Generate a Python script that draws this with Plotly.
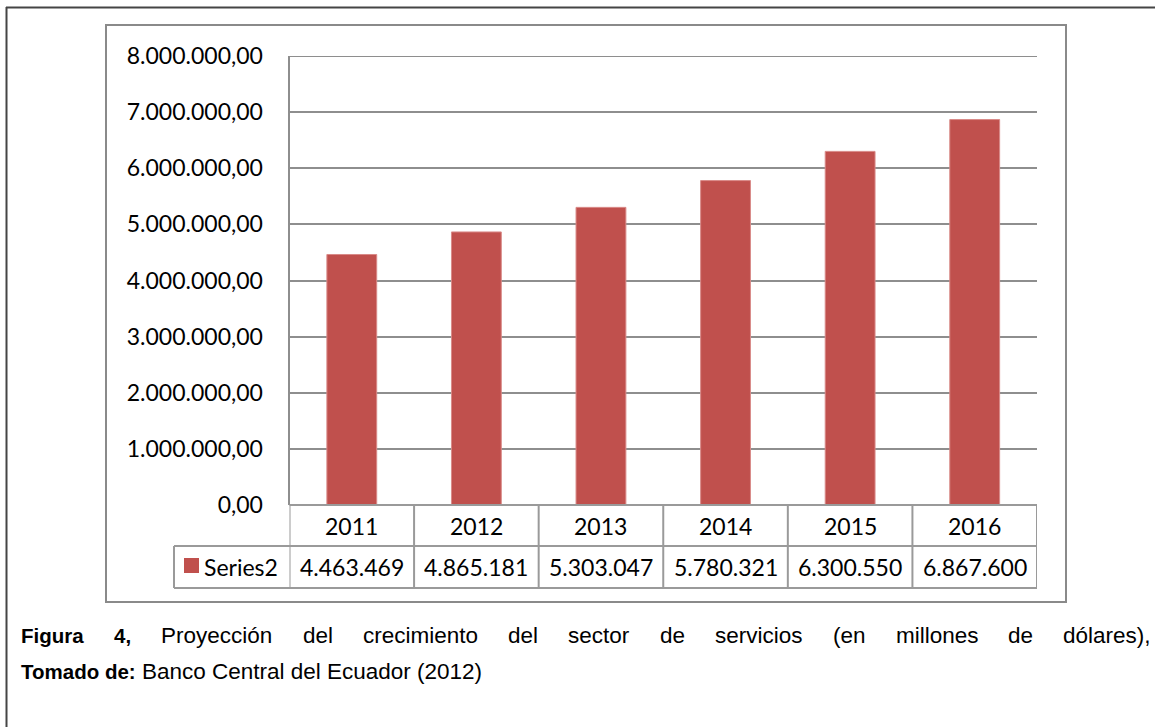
import plotly.graph_objects as go

# Service-sector projection, 2011-2016
years = ["2011", "2012", "2013", "2014", "2015", "2016"]
services = [4463469, 4865181, 5303047, 5780321, 6300550, 6867600]
series_name = "Series2"

y_ticks = [0, 1000000, 2000000, 3000000, 4000000, 5000000, 6000000, 7000000, 8000000]
y_tick_labels = ["0,00", "1.000.000,00", "2.000.000,00", "3.000.000,00", "4.000.000,00",
                 "5.000.000,00", "6.000.000,00", "7.000.000,00", "8.000.000,00"]

caption_words = [("Figura", True), ("4,", True), ("Proyección", False), ("del", False),
                 ("crecimiento", False), ("del", False), ("sector", False), ("de", False),
                 ("servicios", False), ("(en", False), ("millones", False), ("de", False),
                 ("dólares),", False)]
caption_source_label = "Tomado de:"
caption_source = "Banco Central del Ecuador (2012)"

W, H = 1155, 727
BAR_COLOR = "#C0504D"
GRID = "#8E8E8E"
TABLE_LINE = "#9A9A9A"
CHART_FONT = "Lato"
CAPTION_FONT = "Liberation Sans, Arial, sans-serif"


def px(x):
    return x / W


def py(y):
    return 1 - y / H


# plot-area geometry in pixels
PLOT_L, PLOT_R = 289.5, 1037
PLOT_T, PLOT_B = 56, 505
ROW1_B, ROW2_B = 546, 588
LEGEND_L = 174

value_labels = [f"{v:,}".replace(",", ".") for v in services]

fig = go.Figure()
fig.add_trace(go.Bar(
    x=years, y=services, width=0.4, name=series_name,
    marker=dict(color=BAR_COLOR, line=dict(color="#D98A88", width=1)),
    hoverinfo="skip", showlegend=False,
))

shapes = []
# outer frame (top and left edges)
shapes.append(dict(type="line", xref="paper", yref="paper", x0=px(6), x1=px(1160),
                   y0=py(7.5), y1=py(7.5), line=dict(color="#454545", width=2)))
shapes.append(dict(type="line", xref="paper", yref="paper", x0=px(6.5), x1=px(6.5),
                   y0=py(7), y1=py(730), line=dict(color="#454545", width=2)))
# chart-area border
shapes.append(dict(type="rect", xref="paper", yref="paper", x0=px(106), x1=px(1066),
                   y0=py(25), y1=py(602), line=dict(color="#8A8A8A", width=2),
                   fillcolor="rgba(0,0,0,0)"))
# top gridline at the end of the value axis
shapes.append(dict(type="line", xref="paper", yref="y", x0=px(PLOT_L), x1=px(PLOT_R),
                   y0=y_ticks[-1], y1=y_ticks[-1], line=dict(color=GRID, width=2)))
# data table horizontal rules
shapes.append(dict(type="line", xref="paper", yref="paper", x0=px(PLOT_L), x1=px(PLOT_R),
                   y0=py(PLOT_B), y1=py(PLOT_B), line=dict(color=TABLE_LINE, width=2)))
for yy in (ROW1_B, ROW2_B):
    shapes.append(dict(type="line", xref="paper", yref="paper", x0=px(LEGEND_L), x1=px(PLOT_R),
                       y0=py(yy), y1=py(yy), line=dict(color=TABLE_LINE, width=2)))
# data table vertical rules on category boundaries
for i in range(len(years) + 1):
    shapes.append(dict(type="line", xref="x", yref="paper", x0=i - 0.5, x1=i - 0.5,
                       y0=py(PLOT_B), y1=py(ROW2_B), line=dict(color=TABLE_LINE, width=2)))
shapes.append(dict(type="line", xref="paper", yref="paper", x0=px(LEGEND_L), x1=px(LEGEND_L),
                   y0=py(ROW1_B), y1=py(ROW2_B), line=dict(color=TABLE_LINE, width=2)))
# legend key
shapes.append(dict(type="rect", xref="paper", yref="paper", x0=px(184), x1=px(199),
                   y0=py(558), y1=py(573), line=dict(width=0), fillcolor=BAR_COLOR))

annotations = []
row1_mid = (PLOT_B + ROW1_B) / 2
row2_mid = (ROW1_B + ROW2_B) / 2
table_font = dict(family=CHART_FONT, size=23, color="#000")
for i, (yr, lab) in enumerate(zip(years, value_labels)):
    annotations.append(dict(xref="x", yref="paper", x=i, y=py(row1_mid), text=yr,
                            showarrow=False, xanchor="center", yanchor="middle",
                            font=table_font))
    annotations.append(dict(xref="x", yref="paper", x=i, y=py(row2_mid), text=lab,
                            showarrow=False, xanchor="center", yanchor="middle",
                            font=table_font))
annotations.append(dict(xref="paper", yref="paper", x=px(203), y=py(row2_mid), text=series_name,
                        showarrow=False, xanchor="left", yanchor="middle", borderpad=0,
                        font=table_font))

# justified first caption line (Arial advance widths, 1/1000 em)
REG = {" ": 278, "(": 333, ")": 333, ",": 278, ":": 278, "a": 556, "b": 556, "c": 500,
       "d": 556, "e": 556, "g": 556, "i": 222, "l": 222, "m": 833, "n": 556, "o": 556,
       "r": 333, "s": 500, "t": 278, "u": 556, "v": 500, "y": 500, "ó": 556, "P": 667}
BOLD = {"F": 611, "i": 278, "g": 611, "u": 611, "r": 389, "a": 556, "4": 556, ",": 278}
REG_SIZE = 22.5
BOLD_SIZE = 20.5


def word_width(word, bold):
    table = BOLD if bold else REG
    size = BOLD_SIZE if bold else REG_SIZE
    return sum(table.get(c, 556) for c in word) / 1000 * size


def caption_text(word, bold):
    if bold:
        return f"<b><span style='font-size:{BOLD_SIZE}px'>{word}</span></b>"
    return word


cap_left, cap_right = 20, 1150
line1_y, line2_y = 635, 671
widths = [word_width(w, b) for w, b in caption_words]
gap = (cap_right - cap_left - sum(widths)) / (len(caption_words) - 1)
xpos = cap_left
for (w, b), wd in zip(caption_words, widths):
    annotations.append(dict(xref="paper", yref="paper", x=px(xpos), y=py(line1_y),
                            text=caption_text(w, b), showarrow=False,
                            xanchor="left", yanchor="middle", borderpad=0,
                            font=dict(family=CAPTION_FONT, size=REG_SIZE, color="#000")))
    xpos += wd + gap
annotations.append(dict(xref="paper", yref="paper", x=px(cap_left), y=py(line2_y),
                        text=caption_text(caption_source_label, True) + " " + caption_source,
                        showarrow=False, xanchor="left", yanchor="middle", borderpad=0,
                        font=dict(family=CAPTION_FONT, size=REG_SIZE, color="#000")))

fig.update_layout(
    width=W, height=H,
    margin=dict(l=0, r=0, t=0, b=0, autoexpand=False),
    paper_bgcolor="white", plot_bgcolor="white",
    showlegend=False,
    xaxis=dict(type="category", domain=[px(PLOT_L), px(PLOT_R)], range=[-0.5, 5.5],
               showticklabels=False, showgrid=False, zeroline=False, showline=False,
               ticks="", automargin=False, fixedrange=True),
    yaxis=dict(domain=[py(PLOT_B), py(PLOT_T)], range=[0, 8000000],
               tickmode="array", tickvals=y_ticks, ticktext=y_tick_labels,
               showgrid=True, gridcolor=GRID, gridwidth=2,
               showline=True, linecolor=GRID, linewidth=2,
               zeroline=False, ticks="", ticklabelstandoff=20, automargin=False,
               tickfont=dict(family=CHART_FONT, size=23, color="#000"),
               fixedrange=True),
    shapes=shapes,
    annotations=annotations,
)

fig.write_html("out.html")
